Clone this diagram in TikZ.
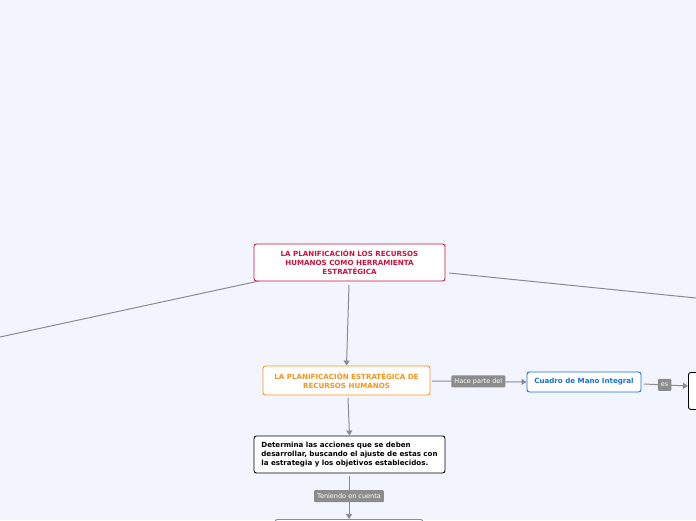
\documentclass[tikz,border=0pt]{standalone}
\usepackage{fontspec}
\setmainfont{DejaVu Sans}
\usetikzlibrary{arrows.meta}
\definecolor{bgc}{HTML}{F2F5FE}
\definecolor{linec}{HTML}{8A8A94}
\definecolor{rootc}{HTML}{C8143C}
\definecolor{orangec}{HTML}{F7941D}
\definecolor{bluec}{HTML}{1A6FD6}
\definecolor{labc}{HTML}{8C8C8C}
\tikzset{
  box/.style={draw, fill=white, rounded corners=2.5pt, line width=0.9pt, inner sep=2pt,
    font=\fontsize{7.1}{9}\selectfont\bfseries, align=center},
  conn/.style={draw=linec, line width=1pt, -{Triangle[width=6pt,length=5pt]}},
  plain/.style={draw=linec, line width=1pt},
  lab/.style={fill=labc, text=white, rounded corners=1pt, inner xsep=3pt, inner ysep=1.5pt,
    font=\fontsize{6.5}{7}\selectfont, minimum height=12pt}
}
\begin{document}
\begin{tikzpicture}[x=1pt,y=-1pt]
\useasboundingbox (0,0) rectangle (696,520);
\clip (0,0) rectangle (696,520);
\fill[bgc] (0,0) rectangle (696,520);

\node[box, draw=rootc, text=rootc, minimum width=191pt, minimum height=37pt] (root) at (349.5,262.5)
  {LA PLANIFICACIÓN LOS RECURSOS\\HUMANOS COMO HERRAMIENTA\\ESTRATÉGICA};
\node[box, draw=orangec, text=orangec, minimum width=167pt, minimum height=29pt] (plan) at (346.5,380.5)
  {LA PLANIFICACIÓN ESTRATÉGICA DE\\RECURSOS HUMANOS};
\node[box, draw=bluec, text=bluec, minimum width=114pt, minimum height=20pt] (cmi) at (584,382)
  {Cuadro de Mano Integral};
\node[box, draw=black, minimum width=40pt, minimum height=37pt, anchor=north west] (es) at (688,372) {};
\node[box, draw=black, text=black, align=left, minimum width=191pt, minimum height=37pt] (det) at (349.5,454.5)
  {Determina las acciones que se deben\\desarrollar, buscando el ajuste de estas con\\la estrategia y los objetivos establecidos.};
\node[box, draw=linec, minimum width=148pt, minimum height=30pt, anchor=north] (bot) at (349,519) {};

\coordinate (lfar) at (0,337);
\coordinate (rfar) at (696,298);

\draw[plain] (259,281) -- (lfar);
\draw[plain] (449,273) -- (rfar);
\draw[conn] (349,285) -- (plan.north);
\draw[conn] (348,398) -- (det.north);
\draw[conn] (349,476) -- node[lab, pos=0.47] {Teniendo en cuenta} (bot.north);
\draw[conn] (432,381) -- node[lab, pos=0.49] {Hace parte del} (cmi.west);
\draw[conn] (644,384) -- node[lab, pos=0.47] {es} (es.west |- 0,386);
\end{tikzpicture}
\end{document}
